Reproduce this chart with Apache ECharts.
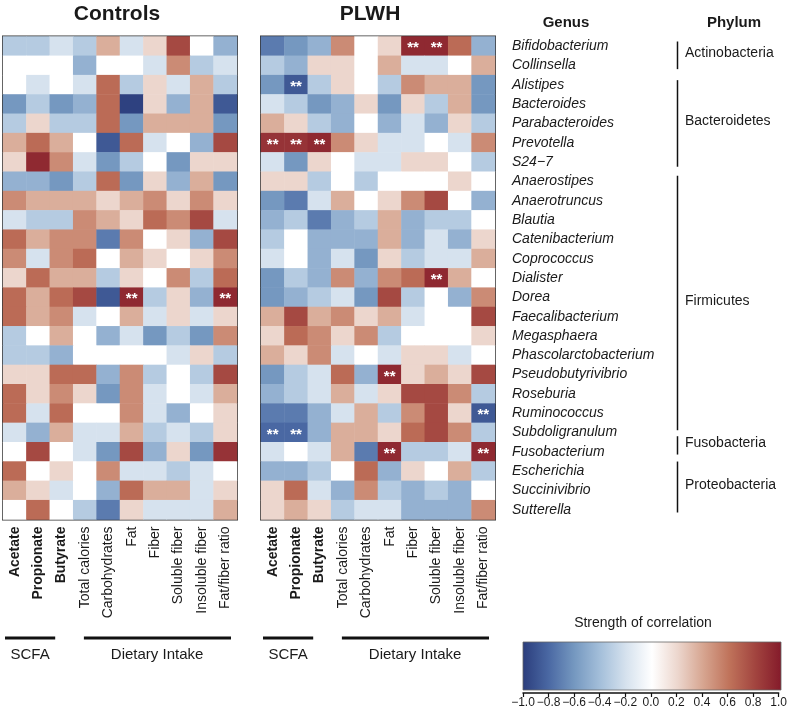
<!DOCTYPE html>
<html>
<head>
<meta charset="utf-8">
<script src="https://cdn.jsdelivr.net/npm/echarts@6/dist/echarts.min.js"></script>
<style>
  html, body { margin: 0; padding: 0; background: #fff; }
  #main { width: 790px; height: 710px; }
</style>
</head>
<body>
<div id="main"></div>
<script>
// columns of both panels (first three are SCFA, rest dietary intake)
const columns = ['Acetate', 'Propionate', 'Butyrate', 'Total calories', 'Carbohydrates',
  'Fat', 'Fiber', 'Soluble fiber', 'Insoluble fiber', 'Fat/fiber ratio']
const boldColumns = 3

const genera = ['Bifidobacterium', 'Collinsella', 'Alistipes', 'Bacteroides', 'Parabacteroides',
  'Prevotella', 'S24\u22127', 'Anaerostipes', 'Anaerotruncus', 'Blautia', 'Catenibacterium',
  'Coprococcus', 'Dialister', 'Dorea', 'Faecalibacterium', 'Megasphaera', 'Phascolarctobacterium',
  'Pseudobutyrivibrio', 'Roseburia', 'Ruminococcus', 'Subdoligranulum', 'Fusobacterium',
  'Escherichia', 'Succinivibrio', 'Sutterella']

// phylum groups: first and last genus row
const phyla = [
  { name: 'Actinobacteria', first: 0, last: 1 },
  { name: 'Bacteroidetes', first: 2, last: 6 },
  { name: 'Firmicutes', first: 7, last: 20 },
  { name: 'Fusobacteria', first: 21, last: 21 },
  { name: 'Proteobacteria', first: 22, last: 24 }
]

// correlation values, one row per genus
const controlsValues = [
  [-0.33, -0.33, -0.2, -0.33, 0.36, -0.2, 0.2, 0.78, 0, -0.47],
  [0, 0, 0, -0.47, 0, 0, -0.2, 0.5, -0.33, -0.2],
  [0, -0.2, 0, -0.2, 0.63, -0.33, 0.2, -0.2, 0.36, -0.33],
  [-0.6, -0.33, -0.6, -0.47, 0.63, -0.98, 0.2, -0.47, 0.36, -0.87],
  [-0.33, 0.2, -0.33, -0.33, 0.63, -0.6, 0.36, 0.36, 0.36, -0.6],
  [0.36, 0.63, 0.36, 0, -0.87, 0.63, -0.2, 0, -0.47, 0.78],
  [0.2, 0.93, 0.5, -0.2, -0.6, -0.33, 0, -0.6, 0.2, 0.2],
  [-0.47, -0.47, -0.6, -0.33, 0.63, -0.6, 0.2, -0.47, 0.36, -0.6],
  [0.5, 0.36, 0.36, 0.36, 0.2, 0.36, 0.5, 0.2, 0.5, 0.2],
  [-0.2, -0.33, -0.33, 0.5, 0.36, 0.2, 0.63, 0.5, 0.78, -0.2],
  [0.63, 0.36, 0.5, 0.5, -0.72, 0.5, 0, 0.2, -0.47, 0.78],
  [0.5, -0.2, 0.5, 0.63, 0, 0.36, 0.2, 0, 0.2, 0.5],
  [0.2, 0.63, 0.36, 0.36, -0.33, 0.2, 0, 0.5, -0.33, 0.63],
  [0.63, 0.36, 0.63, 0.78, -0.87, 0.93, -0.33, 0.2, -0.47, 0.93],
  [0.63, 0.36, 0.5, -0.2, 0, 0.36, -0.2, 0.2, -0.2, 0.2],
  [-0.33, 0, 0.36, 0, -0.47, -0.2, -0.6, -0.33, -0.6, 0.5],
  [-0.33, -0.33, -0.47, 0, 0, 0, 0, -0.2, 0.2, -0.33],
  [0.2, 0.2, 0.63, 0.63, -0.47, 0.5, -0.33, 0, -0.33, 0.78],
  [0.63, 0.2, 0.5, 0.2, -0.6, 0.5, -0.2, 0, -0.2, 0.36],
  [0.63, -0.2, 0.63, 0, 0, 0.5, -0.2, -0.47, 0, 0.2],
  [-0.2, -0.47, 0.36, -0.2, -0.2, 0.36, -0.33, -0.2, -0.33, 0.2],
  [0, 0.78, 0, -0.2, -0.6, 0.78, -0.47, 0.2, -0.6, 0.88],
  [0.63, 0, 0.2, 0, 0.5, -0.2, -0.2, -0.33, -0.2, 0],
  [0.36, 0.2, -0.2, 0, -0.47, 0.63, 0.36, 0.36, -0.2, 0.2],
  [0, 0.63, 0, -0.33, -0.72, 0.2, -0.2, -0.2, -0.2, 0.36]
]

const plwhValues = [
  [-0.72, -0.6, -0.47, 0.5, 0, 0.2, 0.93, 0.93, 0.63, -0.47],
  [-0.33, -0.47, 0.2, 0.2, 0, 0.36, -0.2, -0.2, 0, 0.36],
  [-0.6, -0.87, -0.33, 0.2, 0, -0.33, 0.5, 0.36, 0.36, -0.6],
  [-0.2, -0.33, -0.6, -0.47, 0.2, -0.6, 0.2, -0.33, 0.36, -0.6],
  [0.36, 0.2, -0.33, -0.47, 0, -0.47, -0.2, -0.47, 0.2, -0.33],
  [0.88, 0.88, 0.93, 0.5, 0.2, -0.2, -0.2, 0, -0.2, 0.5],
  [-0.2, -0.6, 0.2, 0, -0.2, -0.2, 0.2, 0.2, 0, -0.33],
  [0.2, 0.2, -0.33, 0, -0.33, 0, 0, 0, 0.2, 0],
  [-0.6, -0.72, -0.2, 0.36, 0, 0.2, 0.5, 0.78, 0, -0.47],
  [-0.47, -0.33, -0.72, -0.47, -0.33, 0.36, -0.47, -0.33, -0.33, 0],
  [-0.33, 0, -0.47, -0.47, -0.47, 0.36, -0.47, -0.2, -0.47, 0.2],
  [-0.2, 0, -0.47, -0.2, -0.6, 0.2, -0.33, -0.2, -0.2, 0.36],
  [-0.6, -0.33, -0.47, 0.5, -0.47, 0.5, 0.63, 0.93, 0.36, 0],
  [-0.6, -0.47, -0.33, -0.2, -0.6, 0.78, -0.33, 0, -0.47, 0.5],
  [0.36, 0.78, 0.36, 0.5, 0.2, 0.36, -0.2, 0, 0, 0.78],
  [0.2, 0.63, 0.5, 0.2, 0.5, -0.33, 0, 0, 0, 0.2],
  [0.36, 0.2, 0.5, -0.2, 0, -0.2, 0.2, 0.2, -0.2, 0],
  [-0.6, -0.33, -0.2, 0.63, -0.47, 0.93, 0.2, 0.36, 0.2, 0.78],
  [-0.47, -0.33, -0.2, 0.36, -0.2, 0.2, 0.78, 0.78, 0.5, -0.33],
  [-0.72, -0.72, -0.47, -0.2, 0.36, -0.33, 0.5, 0.78, 0.2, -0.87],
  [-0.8, -0.8, -0.47, 0.36, 0.36, 0.2, 0.63, 0.78, 0.5, -0.33],
  [-0.2, 0, -0.2, 0.36, -0.72, 0.93, -0.33, -0.33, -0.2, 0.93],
  [-0.47, -0.47, -0.33, 0, 0.63, -0.47, 0.2, 0, 0.36, -0.33],
  [0.2, 0.63, -0.2, -0.47, 0.5, -0.33, -0.47, -0.33, -0.47, 0],
  [0.2, 0.36, 0.2, -0.33, -0.2, -0.2, -0.47, -0.47, -0.47, 0.5]
]

// significant cells (**) as [row, column]
const controlsSig = [[13, 5], [13, 9]]
const plwhSig = [[0, 6], [0, 7], [2, 1], [5, 0], [5, 1], [5, 2], [12, 7], [17, 5],
  [19, 9], [20, 0], [20, 1], [21, 5], [21, 9]]

// colour scale from -1 to 1
const scaleColors = ['#2b3d7c', '#4a68a3', '#7598c0', '#a4bfda', '#d6e2ee', '#ffffff',
  '#ecd6cd', '#d6a48f', '#bf725a', '#a2443f', '#841a2a']

const font = '"Liberation Sans", Arial, sans-serif'
const ink = '#1a1a1a'

// layout
const gridTop = 36.5
const rowH = 19.32
const panelW = 234
const panelH = rowH * genera.length
const leftA = 3
const leftB = 261
// hand-drawn bracket offsets (top, bottom) in px, as in the original figure
const bracketNudge = [[0, 0], [0, 1], [-1, -6], [-11, -1], [-5, -1]]

function toCells(values, sig) {
  const out = []
  values.forEach((row, r) => {
    row.forEach((v, c) => {
      const star = sig.some(s => s[0] === r && s[1] === c)
      const item = { value: [c, r, v] }
      if (star) item.label = { show: true }
      out.push(item)
    })
  })
  return out
}

function xAxisFor(grid) {
  return {
    type: 'category', gridIndex: grid, data: columns, position: 'bottom',
    axisLine: { show: false }, axisTick: { show: false },
    axisLabel: {
      rotate: 90, margin: 7, fontSize: 14, color: ink, fontFamily: font, interval: 0,
      formatter: (v, i) => i < boldColumns ? '{b|' + v + '}' : v,
      rich: { b: { fontWeight: 'bold', fontSize: 14, color: ink, fontFamily: font } }
    }
  }
}

const starLabel = {
  show: false, formatter: '**', color: '#fff', fontSize: 15, fontWeight: 'bold',
  fontFamily: font, offset: [0, 2]
}

const graphics = []
function text(x, y, t, size, weight, align) {
  graphics.push({
    type: 'text', x: x, y: y,
    style: { text: t, fontSize: size, fontWeight: weight || 'normal', fontFamily: font,
      fill: ink, align: align || 'center', verticalAlign: 'middle' }
  })
}
function line(x1, y1, x2, y2, w) {
  graphics.push({ type: 'line', shape: { x1, y1, x2, y2 }, style: { stroke: '#111', lineWidth: w } })
}

text(leftA + panelW / 2 - 3, 14, 'Controls', 21, 'bold')
text(leftB + panelW / 2 - 8, 14, 'PLWH', 21, 'bold')
text(566, 23, 'Genus', 15, 'bold')
text(734, 23, 'Phylum', 15, 'bold')

// group brackets under each panel
;[leftA, leftB].forEach(x0 => {
  const cw = panelW / columns.length
  line(x0 + 2, 638, x0 + 3 * cw - 18, 638, 3)
  line(x0 + 3.5 * cw - 1, 638, x0 + 10 * cw - 6, 638, 3)
  text(x0 + 1.5 * cw - 8, 655, 'SCFA', 15)
  text(x0 + 6.5 * cw + 2, 655, 'Dietary Intake', 15)
})

// phylum brackets
phyla.forEach((p, i) => {
  const y0 = gridTop + p.first * rowH + 5 + bracketNudge[i][0]
  const y1 = gridTop + (p.last + 1) * rowH - 6 + bracketNudge[i][1]
  line(677.5, y0, 677.5, y1, 1.5)
  text(685, (y0 + y1) / 2 - 2, p.name, 14, 'normal', 'left')
})

// colour legend
text(643, 623, 'Strength of correlation', 14)
graphics.push({
  type: 'rect', shape: { x: 523, y: 642, width: 258, height: 48 },
  style: {
    fill: new echarts.graphic.LinearGradient(0, 0, 1, 0,
      scaleColors.map((c, i) => ({ offset: i / (scaleColors.length - 1), color: c }))),
    stroke: '#666', lineWidth: 0.8
  }
})

const chart = echarts.init(document.getElementById('main'), null, { renderer: 'canvas' })

chart.setOption({
  animation: false,
  backgroundColor: '#fff',
  grid: [
    { left: leftA, top: gridTop, width: panelW, height: panelH, show: true,
      borderColor: '#333', borderWidth: 2, backgroundColor: 'transparent' },
    { left: leftB, top: gridTop, width: panelW, height: panelH, show: true,
      borderColor: '#333', borderWidth: 2, backgroundColor: 'transparent' },
    { left: 523, top: 642, width: 258, height: 51 }
  ],
  xAxis: [
    xAxisFor(0),
    xAxisFor(1),
    {
      type: 'value', gridIndex: 2, min: -1, max: 1, interval: 0.2,
      splitLine: { show: false },
      axisLine: { lineStyle: { color: '#111', width: 1.5 } },
      axisTick: { length: 4, lineStyle: { color: '#111', width: 1.2 } },
      axisLabel: {
        margin: 4, fontSize: 12, color: ink, fontFamily: font,
        formatter: v => (v < -1e-9 ? '\u2212' : '') + Math.abs(v).toFixed(1)
      }
    }
  ],
  yAxis: [
    { type: 'category', gridIndex: 0, data: genera, inverse: true,
      axisLine: { show: false }, axisTick: { show: false }, axisLabel: { show: false } },
    { type: 'category', gridIndex: 1, data: genera, inverse: true, position: 'right',
      axisLine: { show: false }, axisTick: { show: false },
      axisLabel: { margin: 17, fontSize: 14, fontStyle: 'italic', color: ink, fontFamily: font } },
    { type: 'value', gridIndex: 2, show: false }
  ],
  visualMap: {
    show: false, type: 'continuous', min: -1, max: 1, seriesIndex: [0, 1],
    inRange: { color: scaleColors }
  },
  series: [
    { type: 'heatmap', xAxisIndex: 0, yAxisIndex: 0, data: toCells(controlsValues, controlsSig),
      label: starLabel, itemStyle: { borderWidth: 0 }, emphasis: { disabled: true } },
    { type: 'heatmap', xAxisIndex: 1, yAxisIndex: 1, data: toCells(plwhValues, plwhSig),
      label: starLabel, itemStyle: { borderWidth: 0 }, emphasis: { disabled: true } },
    { type: 'scatter', xAxisIndex: 2, yAxisIndex: 2, data: [] }
  ],
  graphic: graphics
})
</script>
</body>
</html>
